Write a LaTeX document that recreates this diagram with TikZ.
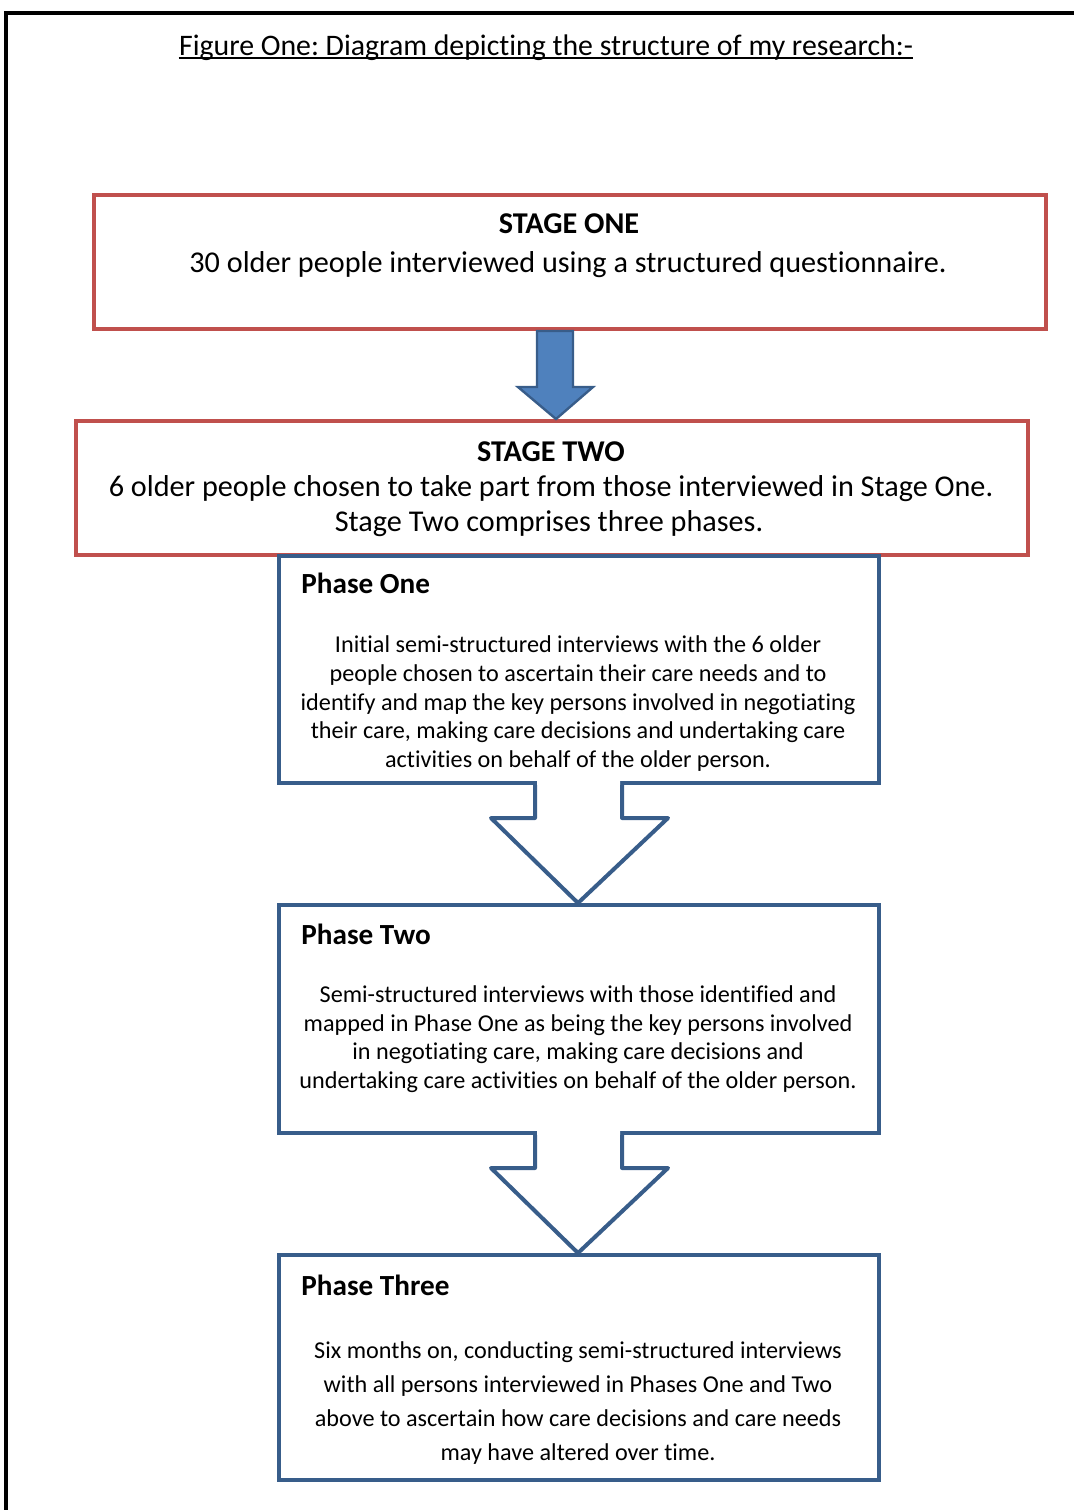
\documentclass[tikz,border=0pt]{standalone}
\usepackage{fontspec}
\setmainfont[Ligatures=NoCommon]{Carlito}
\usetikzlibrary{calc}
\definecolor{boxred}{HTML}{C0504D}
\definecolor{boxblue}{HTML}{385D8A}
\definecolor{arrowfill}{HTML}{4F81BD}
\frenchspacing

\begin{document}
\begin{tikzpicture}[x=0.5pt,y=-0.5pt,
  stagebox/.style={draw=boxred, line width=2pt, rectangle, inner sep=0pt,
    minimum width=476pt, minimum height=67pt},
  phasebox/.style={draw=boxblue, line width=2pt, rectangle, inner sep=0pt,
    minimum width=300pt},
  txt/.style={anchor=base, inner sep=0pt},
  headtxt/.style={anchor=base west, inner sep=0pt, font=\fontsize{14.6}{17}\selectfont\bfseries},
  stagetxt/.style={txt, font=\fontsize{15.1}{18}\selectfont},
  stagehead/.style={txt, font=\fontsize{15.1}{18}\selectfont\bfseries},
  phasetxt/.style={txt, font=\fontsize{12.1}{14}\selectfont},
  solidarrow/.style={fill=arrowfill, draw=boxblue, line width=1.2pt, line join=miter},
  hollowarrow/.style={draw=boxblue, line width=2pt, line join=round},
]
\useasboundingbox (0,0) rectangle (1074,1510);
\clip (0,0) rectangle (1074,1510);

% outer page frame
\draw[line width=2pt] (5.5,13) rectangle (1120,1560);

% title
\node[txt, font=\fontsize{14.9}{17}\selectfont] (title) at (546,55)
  {Figure One: Diagram depicting the structure of my research:-};
\draw[line width=1pt] ($(title.base west)+(0,3)$) -- ($(title.base east)+(0,3)$);

% stage boxes
\node[stagebox] (s1) at (570,262) {};
\node[stagebox] (s2) at (552,488) {};

% filled arrow from stage one to stage two
\draw[solidarrow] (537,0 |- s1.south) -- (537,387) -- (518,387)
  -- (556,419) -- (593,387) -- (573,387) -- (573,0 |- s1.south) -- cycle;

% phase boxes
\node[phasebox, minimum height=113.5pt] (p1) at (579,669.5) {};
\node[phasebox, minimum height=114pt] (p2) at (579,1019) {};
\node[phasebox, minimum height=112.5pt] (p3) at (579,1367.5) {};

% hollow arrows between the phases
\fill[white] (537,780) -- (537,818) -- (493,818) -- (578,900) -- (666,818)
  -- (620,818) -- (620,780) -- cycle;
\draw[hollowarrow] (535,0 |- p1.south) -- (535,818) -- (491,818)
  -- (578,0 |- p2.north) -- (668,818) -- (622,818) -- (622,0 |- p1.south);
\fill[white] (537,1130) -- (537,1168) -- (493,1168) -- (578,1250) -- (666,1168)
  -- (620,1168) -- (620,1130) -- cycle;
\draw[hollowarrow] (535,0 |- p2.south) -- (535,1168) -- (491,1168)
  -- (578,0 |- p3.north) -- (668,1168) -- (622,1168) -- (622,0 |- p2.south);

% stage one text
\node[stagehead] (s1h) at (569,233) {STAGE ONE};
\node[stagetxt] (s1a) at (568,272) {30 older people interviewed using a structured questionnaire.};

% stage two text
\node[stagehead] (s2h) at (551,461) {STAGE TWO};
\node[stagetxt] (s2a) at (551,496) {6 older people chosen to take part from those interviewed in Stage One.};
\node[stagetxt] (s2b) at (549,531) {Stage Two comprises three phases.};

% phase one text
\node[headtxt] (p1h) at (301,593) {Phase One};
\node[phasetxt] (p1a) at (578,652) {Initial semi-structured interviews with the 6 older};
\node[phasetxt] (p1b) at (578,681) {people chosen to ascertain their care needs and to};
\node[phasetxt] (p1c) at (578,710) {identify and map the key persons involved in negotiating};
\node[phasetxt] (p1d) at (578,738) {their care, making care decisions and undertaking care};
\node[phasetxt] (p1e) at (578,767) {activities on behalf of the older person.};

% phase two text
\node[headtxt] (p2h) at (301,944) {Phase Two};
\node[phasetxt] (p2a) at (578,1002) {Semi-structured interviews with those identified and};
\node[phasetxt] (p2b) at (578,1031) {mapped in Phase One as being the key persons involved};
\node[phasetxt] (p2c) at (578,1059) {in negotiating care, making care decisions and};
\node[phasetxt] (p2d) at (578,1088) {undertaking care activities on behalf of the older person.};

% phase three text
\node[headtxt] (p3h) at (301,1295) {Phase Three};
\node[phasetxt] (p3a) at (578,1358) {Six months on, conducting semi-structured interviews};
\node[phasetxt] (p3b) at (578,1392) {with all persons interviewed in Phases One and Two};
\node[phasetxt] (p3c) at (578,1426) {above to ascertain how care decisions and care needs};
\node[phasetxt] (p3d) at (578,1460) {may have altered over time.};
\end{tikzpicture}
\end{document}
